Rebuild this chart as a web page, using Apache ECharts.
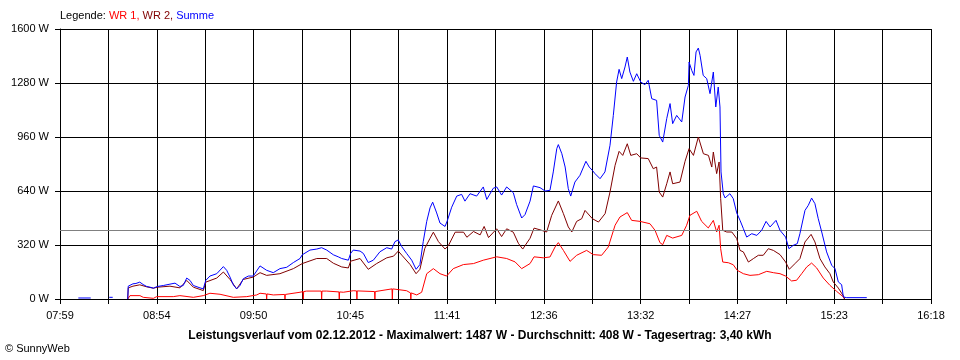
<!DOCTYPE html>
<html><head><meta charset="utf-8">
<script src="https://cdn.jsdelivr.net/npm/echarts@6.0.0/dist/echarts.min.js"></script>
<style>html,body{margin:0;padding:0;background:#fff}#c{width:960px;height:360px}</style>
</head><body><div id="c"></div><script>
// x-axis tick labels (every second grid line)
const tickLabels = ['07:59','08:54','09:50','10:45','11:41','12:36','13:32','14:27','15:23','16:18'];
const axisStartMin = 479;   // 07:59 in minutes since midnight
const axisEndMin = 978;     // 16:18
const gridSteps = 18;
const yTicks = [0, 320, 640, 960, 1280, 1600];
const avgValue = 408;
const maxValue = 1487;
const dayYield = '3,40';
const reportDate = '02.12.2012';

// [minutes since midnight, W]
const summe = [[489.5,6],[496.6,6],[496.7,null],[507.2,10],[509.2,10],[509.3,null],[517.8,0],[518.1,76],[520.8,90],[522.5,92],[524.7,100],[526.6,86],[528.7,74],[530.6,70],[532.5,64],[534.7,74],[538.2,80],[542.0,88],[544.9,94],[547.7,74],[549.6,80],[551.6,124],[553.5,110],[555.4,80],[559.2,66],[561.1,60],[562.5,110],[564.9,136],[568.8,150],[572.6,192],[574.5,170],[576.4,130],[578.3,84],[580.2,60],[582.1,80],[584.0,120],[586.9,136],[589.7,136],[593.6,196],[597.4,170],[601.2,156],[605.0,180],[608.9,188],[612.7,216],[616.5,240],[617.8,262],[622.2,290],[626.1,296],[628.9,304],[631.8,290],[635.6,262],[638.4,250],[640.4,240],[644.2,230],[645.5,270],[647.0,290],[650.9,284],[652.8,270],[655.6,216],[658.5,230],[662.3,280],[666.2,304],[669.0,296],[670.9,340],[672.8,350],[674.8,310],[677.6,270],[680.5,230],[683.0,176],[685.2,204],[687.1,340],[689.1,460],[691.0,540],[692.5,574],[694.8,510],[696.7,450],[699.6,430],[700.9,464],[703.4,544],[706.3,610],[709.1,620],[711.0,580],[713.9,624],[717.7,610],[721.5,664],[723.5,590],[727.2,656],[729.2,664],[732.0,616],[734.9,664],[738.7,630],[740.6,560],[743.5,480],[745.4,500],[748.3,580],[750.2,670],[754.0,660],[756.9,640],[759.7,644],[761.6,753],[763.6,891],[764.5,915],[766.5,861],[768.4,782],[770.2,654],[771.6,610],[774.0,693],[776.9,733],[780.3,816],[782.2,782],[784.0,762],[785.5,743],[788.4,713],[791.2,753],[794.1,911],[796.0,1088],[797.9,1286],[799.3,1361],[800.8,1306],[802.7,1375],[804.0,1434],[805.5,1345],[807.5,1290],[809.4,1335],[811.7,1286],[814.1,1270],[816.0,1296],[818.0,1187],[820.8,1177],[822.3,970],[824.3,930],[826.6,1069],[828.5,1158],[830.0,1039],[832.3,1088],[835.2,1049],[837.1,1197],[839.0,1266],[839.4,1404],[840.9,1355],[842.2,1325],[843.4,1464],[844.7,1487],[845.7,1444],[847.5,1325],[849.5,1306],[851.4,1217],[853.3,1345],[854.7,1138],[856.1,1256],[857.1,1138],[857.7,753],[859.0,624],[860.0,599],[861.0,595],[862.8,624],[864.7,595],[866.7,510],[868.6,466],[870.5,417],[872.4,367],[875.3,387],[878.2,377],[881.0,407],[883.5,460],[885.8,427],[889.2,466],[891.5,407],[894.7,367],[896.6,298],[899.1,318],[901.4,328],[902.9,387],[905.8,525],[907.7,555],[909.6,598],[911.5,565],[913.4,476],[915.4,397],[918.2,279],[921.1,200],[923.0,180],[924.9,101],[926.8,85],[927.8,12],[929.7,8],[941.2,8]];

const wr2 = [[517.8,0],[518.1,66],[520.8,76],[524.7,84],[528.7,72],[532.5,64],[534.7,70],[542.0,76],[547.7,66],[551.6,110],[555.4,70],[561.1,50],[562.5,100],[568.8,124],[572.6,160],[576.4,116],[580.2,60],[584.0,116],[589.7,130],[593.6,156],[597.4,140],[605.0,150],[612.7,180],[617.8,210],[626.1,240],[631.8,240],[635.6,212],[640.4,190],[644.2,184],[645.5,224],[650.9,240],[655.6,176],[660.4,210],[666.2,244],[670.1,254],[672.8,284],[674.8,260],[679.6,204],[683.0,150],[685.2,176],[688.0,300],[691.0,360],[692.9,396],[695.8,340],[699.6,296],[701.5,316],[705.4,396],[710.2,396],[712.1,366],[715.9,400],[719.7,380],[722.0,430],[724.5,364],[729.2,416],[732.0,370],[734.9,416],[738.7,396],[741.6,330],[744.1,296],[748.3,360],[750.6,420],[754.0,410],[757.8,397],[760.7,496],[764.5,581],[767.4,506],[770.2,427],[772.2,397],[775.0,460],[777.9,476],[779.8,525],[784.0,476],[787.5,456],[791.3,506],[794.1,634],[797.0,792],[799.3,875],[801.4,851],[804.0,920],[806.0,851],[809.4,861],[811.7,836],[816.0,832],[818.9,772],[820.8,782],[822.3,634],[824.3,604],[826.6,683],[828.5,753],[830.0,683],[834.2,693],[837.1,816],[839.4,891],[841.9,851],[844.7,960],[847.6,861],[850.5,851],[852.4,782],[853.3,871],[855.2,743],[856.6,812],[857.5,595],[858.7,407],[861.0,397],[863.9,397],[866.7,358],[868.6,288],[870.5,279],[873.4,219],[876.2,239],[879.1,259],[881.9,259],[884.8,298],[887.7,288],[891.5,263],[894.7,219],[896.8,176],[900.0,209],[902.9,239],[905.8,338],[909.3,383],[911.5,338],[914.4,239],[917.2,190],[920.1,150],[922.0,101],[924.9,65],[927.8,18],[928.5,0]];

const wr1 = [[517.8,0],[519.1,20],[524.8,20],[526.7,10],[532.5,4],[534.4,14],[543.9,14],[547.7,20],[555.4,10],[561.1,20],[564.9,34],[570.7,28],[578.3,10],[586.0,14],[591.7,24],[593.6,34],[597.2,30],[597.4,0],[597.6,30],[601.2,24],[607.7,27],[607.9,0],[608.1,27],[608.9,28],[616.5,40],[618.2,44],[618.4,0],[618.6,44],[620.3,47],[628.7,47],[628.9,0],[629.1,47],[631.8,47],[638.8,42],[639.0,0],[639.2,42],[641.3,40],[647.0,49],[648.9,48],[649.1,0],[649.3,48],[659.2,44],[659.4,0],[659.6,44],[660.4,43],[669.2,60],[669.4,0],[669.6,60],[669.9,63],[677.6,49],[679.8,36],[680.0,0],[680.2,36],[683.4,24],[686.2,40],[689.1,150],[692.9,180],[696.7,150],[700.5,136],[704.3,180],[710.1,204],[715.9,210],[721.5,230],[729.2,250],[734.9,240],[739.7,220],[743.5,180],[748.3,210],[750.6,250],[755.9,244],[759.7,249],[762.6,308],[764.5,334],[767.4,288],[771.2,223],[775.0,259],[780.7,288],[784.5,263],[789.3,259],[793.1,308],[797.0,437],[799.8,486],[804.0,512],[806.5,466],[811.3,460],[817.0,446],[819.9,407],[822.7,334],[824.3,322],[826.6,377],[830.0,361],[835.2,377],[838.0,437],[839.9,496],[843.8,520],[846.6,460],[850.4,421],[853.3,466],[855.2,397],[856.6,437],[857.5,298],[858.7,219],[861.9,215],[864.7,203],[867.0,170],[870.5,150],[874.3,140],[879.1,144],[883.9,164],[887.7,156],[891.5,150],[894.7,136],[898.1,107],[901.0,111],[903.9,150],[906.8,190],[909.6,213],[912.5,184],[916.3,124],[920.1,81],[924.0,45],[927.8,12],[928.5,0]];

const stepMin = (axisEndMin - axisStartMin) / gridSteps;
const toAxis = pts => pts.map(p => [(p[0] - axisStartMin) / stepMin, p[1]]);
const FONT = 'Liberation Sans';

const chart = echarts.init(document.getElementById('c'), null, {renderer: 'canvas'});
chart.setOption({
  animation: false,
  backgroundColor: '#ffffff',
  textStyle: {fontFamily: FONT, color: '#000'},
  title: [
    {
      text: '{k|Legende: }{r|WR 1, }{d|WR 2, }{b|Summe}',
      left: 60, top: 10, padding: 0,
      textStyle: {fontFamily: FONT, fontSize: 11, fontWeight: 'normal', rich: {
        k: {color: '#000', fontSize: 11, fontFamily: FONT},
        r: {color: '#ff0000', fontSize: 11, fontFamily: FONT},
        d: {color: '#800000', fontSize: 11, fontFamily: FONT},
        b: {color: '#0000ff', fontSize: 11, fontFamily: FONT}
      }}
    },
    {
      text: 'Leistungsverlauf vom ' + reportDate + ' - Maximalwert: ' + maxValue + ' W - Durchschnitt: ' + avgValue + ' W - Tagesertrag: ' + dayYield + ' kWh',
      left: 'center', top: 330, padding: 0,
      textStyle: {fontFamily: FONT, fontSize: 12, fontWeight: 'bold', color: '#000'}
    },
    {
      text: '© SunnyWeb', left: 5, top: 343, padding: 0,
      textStyle: {fontFamily: FONT, fontSize: 11, fontWeight: 'normal', color: '#000'}
    }
  ],
  grid: {left: 60, right: 29, top: 29, bottom: 61, containLabel: false},
  xAxis: {
    type: 'value', min: 0, max: gridSteps, interval: 1,
    axisLine: {show: true, onZero: false, lineStyle: {color: '#000', width: 1}},
    axisTick: {show: true, length: 5, lineStyle: {color: '#000'}},
    splitLine: {show: true, lineStyle: {color: '#000', width: 1}},
    axisLabel: {
      margin: 11, fontSize: 11, fontFamily: FONT, color: '#000',
      formatter: v => (Math.round(v) % 2 === 0 ? tickLabels[Math.round(v) / 2] : '')
    }
  },
  yAxis: {
    type: 'value', min: yTicks[0], max: yTicks[yTicks.length - 1], interval: yTicks[1] - yTicks[0],
    axisLine: {show: true, lineStyle: {color: '#000', width: 1}},
    axisTick: {show: true, length: 5, lineStyle: {color: '#000'}},
    splitLine: {show: true, lineStyle: {color: '#000', width: 1}},
    axisLabel: {margin: 11, fontSize: 11, fontFamily: FONT, color: '#000', formatter: v => String(v) + ' W'}
  },
  series: [
    {
      name: 'WR 1', type: 'line', data: toAxis(wr1), showSymbol: false, symbol: 'none',
      lineStyle: {color: '#ff0000', width: 1}, itemStyle: {color: '#ff0000'},
      emphasis: {disabled: true}, z: 3,
      markLine: {
        silent: true, symbol: 'none', animation: false,
        label: {show: false},
        lineStyle: {color: '#808080', type: 'solid', width: 1},
        emphasis: {disabled: true},
        data: [{yAxis: avgValue}]
      }
    },
    {
      name: 'WR 2', type: 'line', data: toAxis(wr2), showSymbol: false, symbol: 'none',
      lineStyle: {color: '#800000', width: 1}, itemStyle: {color: '#800000'},
      emphasis: {disabled: true}, z: 4
    },
    {
      name: 'Summe', type: 'line', data: toAxis(summe), showSymbol: false, symbol: 'none',
      connectNulls: false,
      lineStyle: {color: '#0000ff', width: 1}, itemStyle: {color: '#0000ff'},
      emphasis: {disabled: true}, z: 5
    }
  ]
});
</script></body></html>
